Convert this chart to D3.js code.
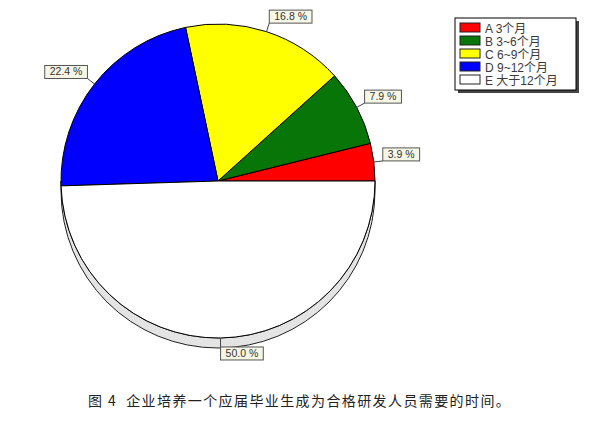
<!DOCTYPE html>
<html>
<head>
<meta charset="utf-8">
<script src="https://cdn.jsdelivr.net/npm/d3@7"></script>
<style>
  body { margin: 0; background: #fff; }
  svg { display: block; }
</style>
</head>
<body>
<script>
// chart data
var categories = ["A 3个月", "B 3~6个月", "C 6~9个月", "D 9~12个月", "E 大于12个月"];
var values = [3.9, 7.9, 16.8, 22.4, 50.0];
var colors = ["#ff0000", "#077507", "#ffff00", "#0000ff", "#ffffff"];
var caption = "图 4  企业培养一个应届毕业生成为合格研发人员需要的时间。";

var W = 592, H = 439;
var cx = 218, cy = 181, r = 157, depth = 10;

var svg = d3.select("body").append("svg")
    .attr("width", W)
    .attr("height", H);

/* === 3D side band under the lower half === */
var side = d3.path();
side.moveTo(cx - r, cy);
side.lineTo(cx - r, cy + depth);
side.arc(cx, cy + depth, r, Math.PI, 0, true);
side.lineTo(cx + r, cy);
side.arc(cx, cy, r, 0, Math.PI, false);
side.closePath();
svg.append("path")
    .attr("d", side.toString())
    .attr("fill", "#e4e4e4")
    .attr("stroke", "#222")
    .attr("stroke-width", 1);

/* === pie, counterclockwise from 3 o'clock === */
var pie = d3.pie()
    .sort(null)
    .value(function (d) { return d; })
    .startAngle(Math.PI / 2)
    .endAngle(Math.PI / 2 - 2 * Math.PI);

var arc = d3.arc().innerRadius(0).outerRadius(r);
var arcs = pie(values);

var g = svg.append("g").attr("transform", "translate(" + cx + "," + cy + ")");

g.selectAll("path.slice")
    .data(arcs)
    .enter()
    .append("path")
    .attr("class", "slice")
    .attr("d", arc)
    .attr("fill", function (d, i) { return colors[i]; })
    .attr("stroke", "#000")
    .attr("stroke-width", 1)
    .attr("stroke-linejoin", "round");

/* === labels with leader lines === */
var ext = 9;
arcs.forEach(function (d) {
    var mid = (d.startAngle + d.endAngle) / 2;
    var sx = Math.sin(mid), sy = -Math.cos(mid);
    var ax = sx * r, ay = sy * r;
    var ex = ax + sx * ext, ey = ay + sy * ext;

    g.append("line")
        .attr("x1", ax).attr("y1", ay)
        .attr("x2", ex).attr("y2", ey)
        .attr("stroke", "#444")
        .attr("stroke-width", 1);

    var lbl = g.append("g");
    var t = lbl.append("text")
        .attr("font-family", "Liberation Sans, Arial, sans-serif")
        .attr("font-size", 10.5)
        .attr("fill", "#333")
        .text(d.data.toFixed(1) + " %");
    var tw = t.node().getComputedTextLength();
    var bw = tw + 10, bh = 13;
    var bx = sx >= 0 ? ex : ex - bw;
    var by = sy <= 0 ? ey - bh : ey;
    lbl.insert("rect", "text")
        .attr("x", bx).attr("y", by)
        .attr("width", bw).attr("height", bh)
        .attr("fill", "#f7f7e6")
        .attr("stroke", "#555")
        .attr("stroke-width", 1);
    t.attr("x", bx + 5).attr("y", by + 10);
});

/* === legend === */
var lx = 455, ly = 18, lw = 121, lh = 72, rowH = 13;
svg.append("rect")
    .attr("x", lx + 3).attr("y", ly + 3)
    .attr("width", lw).attr("height", lh)
    .attr("fill", "#444");
svg.append("rect")
    .attr("x", lx).attr("y", ly)
    .attr("width", lw).attr("height", lh)
    .attr("fill", "#fff")
    .attr("stroke", "#000")
    .attr("stroke-width", 1);

var items = svg.selectAll("g.item")
    .data(categories)
    .enter()
    .append("g")
    .attr("class", "item")
    .attr("transform", function (d, i) { return "translate(" + (lx + 5) + "," + (ly + 5 + i * rowH) + ")"; });

items.append("rect")
    .attr("width", 20).attr("height", 9)
    .attr("fill", function (d, i) { return colors[i]; })
    .attr("stroke", "#222")
    .attr("stroke-width", 1);

items.append("text")
    .attr("x", 25).attr("y", 9.5)
    .attr("font-family", "Liberation Sans, Noto Sans CJK SC, sans-serif")
    .attr("font-size", 12)
    .attr("fill", "#3a3a3a")
    .text(function (d) { return d; });

/* === caption === */
svg.append("text")
    .attr("x", 88).attr("y", 406)
    .attr("font-family", "Noto Sans CJK SC, sans-serif")
    .attr("font-size", 14)
    .attr("letter-spacing", 1.4)
    .attr("fill", "#222")
    .attr("xml:space", "preserve")
    .style("white-space", "pre")
    .text(caption);
</script>
</body>
</html>
